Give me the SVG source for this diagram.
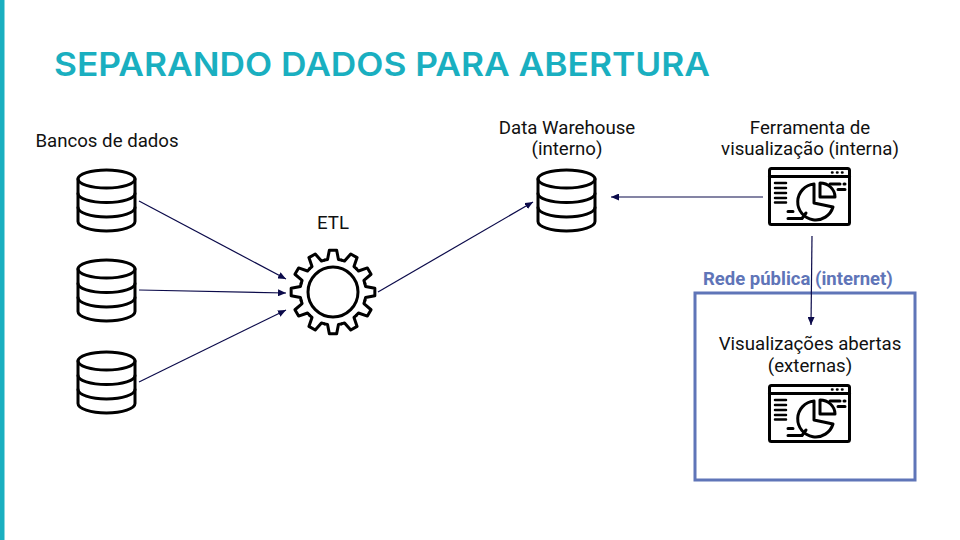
<svg xmlns="http://www.w3.org/2000/svg" width="960" height="540" viewBox="0 0 960 540">
<style>
.t{font-family:Roboto,"Liberation Sans",sans-serif;font-size:18.67px;fill:#111;text-anchor:middle}
.ic{fill:none;stroke:#000;stroke-width:3;stroke-linecap:round;stroke-linejoin:round}
.c{fill:none;stroke:#0b0a4a;stroke-width:1.2;marker-end:url(#a)}
</style>
<defs>
<marker id="a" markerUnits="userSpaceOnUse" markerWidth="9" markerHeight="7" refX="8" refY="3.500" orient="auto"><path d="M0 0L8 3.500L0 7Z" fill="#0b0a4a"/></marker>
<g id="db" class="ic">
<ellipse cx="0" cy="9.500" rx="28.500" ry="9"/>
<path d="M-28.500 9.500V52C-28.500 57 -16 61.500 0 61.500S28.500 57 28.500 52V9.500"/>
<path d="M-28.500 24C-28.500 29 -16 33 0 33S28.500 29 28.500 24"/>
<path d="M-28.500 38C-28.500 43 -16 47.500 0 47.500S28.500 43 28.500 38"/>
</g>
<path id="tooth" d="M-8.540-31.880L-5.450-32.550L-3.660-41.840L3.660-41.840L5.450-32.550L8.540-31.880"/>
<g id="chart" class="ic">
<rect x="1.500" y="1.500" width="80" height="56" rx="2"/>
<path d="M1.500 9.500H81.500"/>
<path d="M64 5.500h.5M69 5.500h.5M74 5.500h.5" stroke-width="2.500"/>
<path d="M7 16H18M7 21H18M7 26H18M7 31H18M7 35.500H18" stroke-width="2.500"/>
<path d="M46 17A18 18 0 1 0 65 40L46 36V17"/>
<path d="M52 16V30H67C67 22 60 16 52 16Z"/>
<path d="M62 17H72M70 22.500H77M76 17H77"/>
<path d="M20 44.500H25M20 51.500H34L38 46"/>
</g>
</defs>
<rect width="960" height="540" fill="#fff"/>
<rect id="bar" x="0" y="0" width="4.500" height="540" fill="#1aafc0"/>
<text id="title" x="54" y="76" font-family="Inter,Lato,sans-serif" font-weight="600" font-size="32" fill="#1aafc0" textLength="656" lengthAdjust="spacingAndGlyphs">SEPARANDO DADOS PARA ABERTURA</text>
<g id="rede">
<rect x="695" y="293" width="220" height="187" fill="none" stroke="#5f75b8" stroke-width="3"/>
<text x="703" y="285" font-family="Roboto,'Liberation Sans',sans-serif" font-weight="700" font-size="18.500" fill="#5f75b8">Rede pública (internet)</text>
</g>
<g id="connectors">
<path class="c" d="M139 201L286 279"/>
<path class="c" d="M139 290L286 293"/>
<path class="c" d="M139 382L286 310"/>
<path class="c" d="M378 292L533 202"/>
<path class="c" d="M763 197L611 197"/>
<path class="c" d="M812 236L811 325"/>
</g>
<g id="bancos"><text class="t" x="107" y="147">Bancos de dados</text></g>
<g id="db1"><use href="#db" x="106.500" y="169.500"/></g>
<g id="db2"><use href="#db" x="106.500" y="259.500"/></g>
<g id="db3"><use href="#db" x="106.500" y="351.500"/></g>
<g id="etl">
<text class="t" x="333" y="229">ETL</text>
<g class="ic" transform="translate(333 292)">
<circle r="25"/>
<use href="#tooth"/>
<use href="#tooth" transform="rotate(30)"/>
<use href="#tooth" transform="rotate(60)"/>
<use href="#tooth" transform="rotate(90)"/>
<use href="#tooth" transform="rotate(120)"/>
<use href="#tooth" transform="rotate(150)"/>
<use href="#tooth" transform="rotate(180)"/>
<use href="#tooth" transform="rotate(210)"/>
<use href="#tooth" transform="rotate(240)"/>
<use href="#tooth" transform="rotate(270)"/>
<use href="#tooth" transform="rotate(300)"/>
<use href="#tooth" transform="rotate(330)"/>
</g>
</g>
<g id="dw">
<text class="t" x="567" y="134">Data Warehouse</text>
<text class="t" x="567" y="155">(interno)</text>
<use href="#db" x="566.500" y="169.500"/>
</g>
<g id="ferramenta">
<text class="t" x="810" y="134">Ferramenta de</text>
<text class="t" x="810" y="155">visualização (interna)</text>
<use href="#chart" x="768" y="167"/>
</g>
<g id="abertas">
<text class="t" x="810" y="350">Visualizações abertas</text>
<text class="t" x="810" y="372">(externas)</text>
<use href="#chart" x="768" y="384"/>
</g>
</svg>
